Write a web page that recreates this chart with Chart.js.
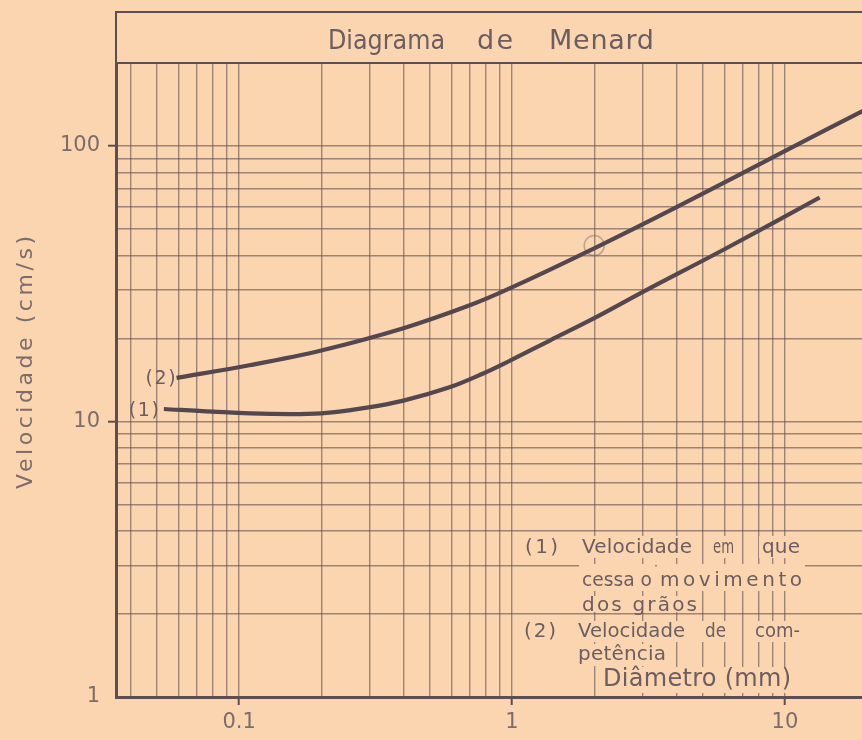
<!DOCTYPE html>
<html>
<head>
<meta charset="utf-8">
<script src="https://cdn.jsdelivr.net/npm/chart.js@4.4.1/dist/chart.umd.min.js"></script>
<style>
  html, body { margin: 0; padding: 0; background: #fbd5b0; }
  canvas { display: block; }
</style>
</head>
<body>
<canvas id="c" width="862" height="740"></canvas>
<script>
// ---------- data ----------
const chartTitle = ["Diagrama", "de", "Menard"];
const yAxisTitle = "Velocidade (cm/s)";
const xAxisTitle = "Diâmetro (mm)";
const seriesLabels = ["(1)", "(2)"];

// (1) velocidade em que cessa o movimento dos grãos
const diameter1 = [0.053, 0.08, 0.13, 0.2, 0.29, 0.4, 0.59, 0.78, 0.98, 1.38, 2.0, 3.03, 6.17, 13.4];
const velocity1 = [11.1, 10.85, 10.65, 10.7, 11.2, 11.9, 13.3, 14.9, 16.6, 19.7, 23.7, 29.6, 42.8, 65];
// (2) velocidade de competência
const diameter2 = [0.059, 0.109, 0.2, 0.4, 0.7, 0.98, 2.0, 4.04, 10.1, 19.4, 22];
const velocity2 = [14.4, 16.0, 18.1, 21.8, 26.4, 30.4, 42.5, 60.2, 96.4, 134.5, 143];
// small circle drawn on curve (2)
const markerDiameter = [2];
const markerVelocity = [43.5];

const legendRows = [
  ["(1)", "Velocidade", "em", "que"],
  ["cessa o", "movimento"],
  ["dos grãos"],
  ["(2)", "Velocidade", "de", "com-"],
  ["petência"]
];

const xMin = 0.0354, xMax = 19.15;
const yMin = 1, yMax = 200;
const xGrid = [0.04, 0.05, 0.06, 0.07, 0.08, 0.09, 0.1, 0.2, 0.3, 0.4, 0.5, 0.6, 0.7, 0.8, 0.9,
               1, 2, 3, 4, 5, 6, 7, 8, 9, 10];
const yGrid = [1, 2, 3, 4, 5, 6, 7, 8, 9, 10, 20, 30, 40, 50, 60, 70, 80, 90, 100, 200];
const xTickValues = [0.1, 1, 10];
const xTickLabels = ["0.1", "1", "10"];
const yTickValues = [1, 10, 100];
const yTickLabels = ["1", "10", "100"];

// ---------- style ----------
const BG = "#fbd5b0";
const INK = "#5d4f51";
const TEXT = "#6c5e60";
const LIGHT_TEXT = "#7b6d6c";
const GRID = "rgba(98,82,82,0.62)";
const CURVE = "#54474e";
const FONT = "'DejaVu Sans', 'Liberation Sans', sans-serif";

function labelFor(v, vals, texts) {
  const i = vals.findIndex(t => Math.abs(t - v) < 1e-9 * Math.max(1, t));
  return i >= 0 ? texts[i] : "";
}

function fitText(ctx, text, left, y, width) {
  if ("letterSpacing" in ctx) ctx.letterSpacing = "0px";
  ctx.textAlign = "left";
  const m = ctx.measureText(text).width;
  const n = [...text].length;
  if (width > m && n > 1 && "letterSpacing" in ctx) {
    ctx.letterSpacing = ((width - m) / (n - 1)) + "px";
    ctx.fillText(text, left, y);
    ctx.letterSpacing = "0px";
  } else {
    ctx.save();
    ctx.translate(left, y);
    ctx.scale(width / m, 1);
    ctx.fillText(text, 0, 0);
    ctx.restore();
  }
}

const bgPlugin = {
  id: "bg",
  beforeDraw(chart) {
    const ctx = chart.ctx;
    ctx.save();
    ctx.fillStyle = BG;
    ctx.fillRect(0, 0, chart.width, chart.height);
    ctx.restore();
  }
};

const decorPlugin = {
  id: "decor",
  afterDraw(chart) {
    const ctx = chart.ctx;
    const area = chart.chartArea;
    ctx.save();

    // title box
    ctx.strokeStyle = INK;
    ctx.lineWidth = 2;
    ctx.strokeRect(area.left, 12, chart.width + 10 - area.left, area.top - 12);
    ctx.fillStyle = TEXT;
    ctx.font = "27px " + FONT;
    ctx.textBaseline = "middle";
    const titleLayout = [[328, 117], [477, 36], [549, 105]];
    chartTitle.forEach((w, i) => fitText(ctx, w, titleLayout[i][0], 42, titleLayout[i][1]));

    // y axis title (rotated)
    ctx.save();
    ctx.translate(26, 363);
    ctx.rotate(-Math.PI / 2);
    ctx.fillStyle = LIGHT_TEXT;
    ctx.font = "22px " + FONT;
    ctx.textBaseline = "middle";
    fitText(ctx, yAxisTitle, -126, 0, 253);
    ctx.restore();

    // series labels at curve starts
    ctx.font = "19px " + FONT;
    ctx.fillStyle = TEXT;
    ctx.textBaseline = "middle";
    const offs = [[-35, 2], [-31, 1]];
    [0, 1].forEach(i => {
      const p = chart.getDatasetMeta(i).data[0];
      fitText(ctx, seriesLabels[i], p.x + offs[i][0], p.y + offs[i][1], 30);
    });

    // legend block
    const legendLayout = [
      { y: 548, pad: [12, 10], words: [[525, 33], [582, 110], [713, 21], [762, 38]] },
      { y: 581, pad: [17, 10], words: [[582, 70], [660, 142]] },
      { y: 606, pad: [10, 6], words: [[582, 115]] },
      { y: 632, pad: [11, 10], words: [[524, 32], [578, 107], [705, 21], [755, 45]] },
      { y: 655, pad: [11, 11], words: [[578, 88]] }
    ];
    legendLayout.forEach(row => {
      row.words.forEach(w => {
        ctx.fillStyle = BG;
        ctx.fillRect(w[0] - 3, row.y - row.pad[0], w[1] + 6, row.pad[0] + row.pad[1]);
      });
    });
    ctx.fillStyle = TEXT;
    ctx.font = "20px " + FONT;
    legendLayout.forEach((row, r) => {
      row.words.forEach((w, k) => fitText(ctx, legendRows[r][k], w[0], row.y, w[1]));
    });

    // x axis title inside plot
    ctx.fillStyle = BG;
    ctx.fillRect(600, 667, 195, 26);
    ctx.fillStyle = TEXT;
    ctx.font = "24px " + FONT;
    fitText(ctx, xAxisTitle, 603, 680, 188);

    ctx.restore();
  }
};

new Chart(document.getElementById("c"), {
  type: "line",
  data: {
    datasets: [
      {
        label: seriesLabels[0],
        data: diameter1.map((d, i) => ({ x: d, y: velocity1[i] })),
        borderColor: CURVE, borderWidth: 4.2, pointRadius: 0,
        tension: 0.35, fill: false
      },
      {
        label: seriesLabels[1],
        data: diameter2.map((d, i) => ({ x: d, y: velocity2[i] })),
        borderColor: CURVE, borderWidth: 4.2, pointRadius: 0,
        tension: 0.35, fill: false
      },
      {
        label: "marker",
        data: markerDiameter.map((d, i) => ({ x: d, y: markerVelocity[i] })),
        showLine: false, pointRadius: 10, pointBorderWidth: 1.5,
        pointBorderColor: "rgba(120,100,100,0.45)", pointBackgroundColor: "rgba(0,0,0,0)"
      }
    ]
  },
  options: {
    responsive: false,
    animation: false,
    devicePixelRatio: 1,
    layout: { autoPadding: false, padding: { top: 63, left: 0, right: 0, bottom: 0 } },
    plugins: { legend: { display: false }, tooltip: { enabled: false }, title: { display: false } },
    scales: {
      x: {
        type: "logarithmic", position: "bottom", min: xMin, max: xMax,
        afterBuildTicks: s => { s.ticks = xGrid.map(v => ({ value: v })); },
        afterFit: s => { s.height = 43; s.paddingLeft = 0; s.paddingRight = 0; },
        ticks: {
          autoSkip: false, maxRotation: 0, minRotation: 0, padding: 5,
          color: LIGHT_TEXT, font: { family: FONT, size: 21 },
          callback: v => labelFor(v, xTickValues, xTickLabels)
        },
        grid: {
          color: GRID, lineWidth: 1.4, tickLength: 8, tickWidth: 2,
          tickColor: c => (c.tick && labelFor(c.tick.value, xTickValues, xTickLabels)) ? INK : "rgba(0,0,0,0)"
        },
        border: { color: INK, width: 3 }
      },
      y: {
        type: "logarithmic", position: "left", min: yMin, max: yMax,
        afterBuildTicks: s => { s.ticks = yGrid.map(v => ({ value: v })); },
        afterFit: s => { s.width = 116; s.paddingTop = 0; s.paddingBottom = 0; },
        ticks: {
          autoSkip: false, padding: 8,
          color: LIGHT_TEXT, font: { family: FONT, size: 21 },
          callback: v => labelFor(v, yTickValues, yTickLabels)
        },
        grid: {
          color: GRID, lineWidth: 1.4, tickLength: 8, tickWidth: 2,
          tickColor: c => (c.tick && labelFor(c.tick.value, yTickValues, yTickLabels) && c.tick.value !== 1) ? INK : "rgba(0,0,0,0)"
        },
        border: { color: INK, width: 3 }
      }
    }
  },
  plugins: [bgPlugin, decorPlugin]
});
</script>
</body>
</html>
